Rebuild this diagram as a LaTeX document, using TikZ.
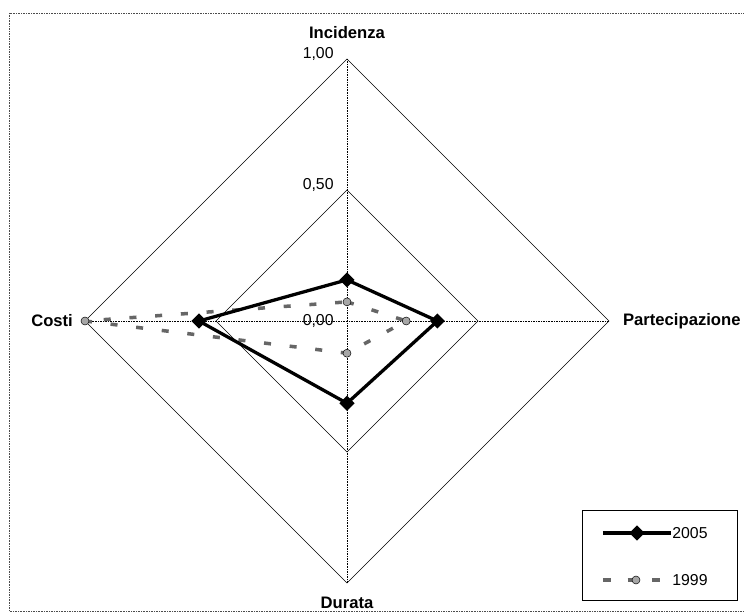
\documentclass[tikz,border=0pt]{standalone}
\usepackage{fontspec}
\setmainfont{Liberation Sans}
\usetikzlibrary{shapes.geometric}

\begin{document}
\begin{tikzpicture}[x=0.03cm,y=0.03cm,
	axislbl/.style={font=\fontsize{14.2}{16}\selectfont\bfseries},
	ticklbl/.style={font=\fontsize{13.5}{15}\selectfont,anchor=east,inner sep=1pt},
	ser05/.style={line width=2.8pt,black},
	ser99/.style={line width=3pt,gray!80!black,dash pattern=on 6pt off 16pt},
	mk05/.style={diamond,fill=black,inner sep=0,minimum width=0.46cm,minimum height=0.46cm},
	mk99/.style={circle,fill=gray!70,draw=black,thin,inner sep=0,minimum size=0.24cm}]
	\def\r{262} %radius of value 1,00
	\useasboundingbox (-347,321) rectangle (397,-292);
	
	%FRAME
	\draw[gray!60!black,densely dotted] (-338,308) rectangle (398,-290);
	
	%RINGS AND SPOKES
	\foreach \k in {1,0.5}
		\draw[thin] (0,\k*\r)--(\k*\r,0)--(0,-\k*\r)--(-\k*\r,0)--cycle;
	\draw[thin,densely dotted] (0,\r)--(0,-\r);
	\draw[thin,densely dotted] (-\r,0)--(\r,0);
	
	%SCALE
	\node[ticklbl] (t100) at (-12,267) {1,00};
	\node[ticklbl] (t050) at (-12,136) {0,50};
	\node[ticklbl] (t000) at (-12,0) {0,00};
	
	%AXIS LABELS
	\node[axislbl] (inc) at (0,288) {Incidenza};
	\node[axislbl,anchor=west] (par) at (272,0) {Partecipazione};
	\node[axislbl] (dur) at (0,-282) {Durata};
	\node[axislbl,anchor=east] (cos) at (-270,0) {Costi};
	
	%DATA 1999
	\coordinate (i99) at (90:0.073*\r);
	\coordinate (p99) at (0:0.226*\r);
	\coordinate (d99) at (270:0.123*\r);
	\coordinate (c99) at (180:1.0*\r);
	\draw[ser99] (i99)--(p99)--(d99)--(c99)--cycle;
	\foreach \p in {i,p,d,c}
		\node[mk99] (m99\p) at (\p99) {};
	
	%DATA 2005
	\coordinate (i05) at (90:0.157*\r);
	\coordinate (p05) at (0:0.345*\r);
	\coordinate (d05) at (270:0.314*\r);
	\coordinate (c05) at (180:0.565*\r);
	\draw[ser05] (i05)--(p05)--(d05)--(c05)--cycle;
	\foreach \p in {i,p,d,c}
		\node[mk05] (m05\p) at (\p05) {};
	
	%LEGEND
	\node[draw,thin,inner sep=0,minimum width=4.65cm,minimum height=2.7cm] (legend) at (312.5,-234) {};
	\node[font=\fontsize{13.5}{15}\selectfont,anchor=west,inner sep=1pt] (lt05) at (324,-212) {2005};
	\node[font=\fontsize{13.5}{15}\selectfont,anchor=west,inner sep=1pt] (lt99) at (324,-259) {1999};
	\coordinate (l05) at (256,-212);
	\coordinate (l99) at (256,-259);
	\draw[ser05] (l05)--(lt05.west);
	\draw[ser99,dash pattern=on 7pt off 14pt] (l99)--(lt99.west);
	\node[mk05] (lm05) at (290,-212) {};
	\node[mk99] (lm99) at (289,-259) {};
\end{tikzpicture}
\end{document}
